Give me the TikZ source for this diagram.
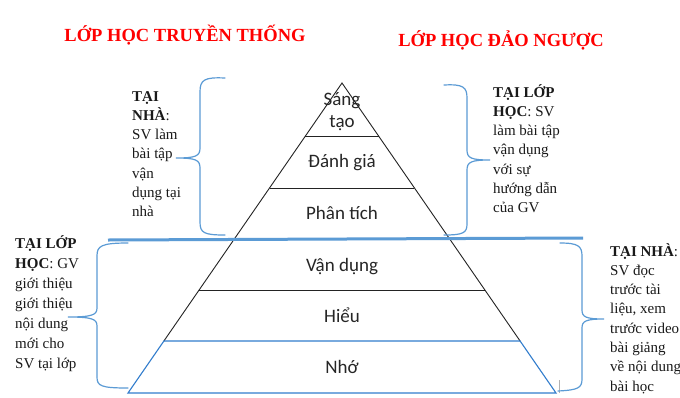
\documentclass[tikz,border=0pt]{standalone}
\usepackage{fontspec}
\setmainfont{Liberation Serif}
\newfontfamily\pyrfont{Carlito}
\usetikzlibrary{calc}
\definecolor{brc}{RGB}{91,155,213}
\definecolor{pblue}{RGB}{50,125,205}
\definecolor{dk}{RGB}{35,35,35}
\definecolor{tred}{RGB}{255,0,0}
\begin{document}
\begin{tikzpicture}[x=1pt,y=-1pt,
  title/.style={anchor=base,inner sep=0pt,text=tred,font=\fontsize{18.5}{20}\selectfont\bfseries},
  pyr/.style={anchor=base,inner sep=0pt,font=\pyrfont\fontsize{19}{22}\selectfont,text=black!85},
  txt/.style={anchor=base west,inner sep=0pt,font=\fontsize{15}{18}\selectfont,text=black!90},
  dline/.style={draw=dk,line width=0.9pt},
  bline/.style={draw=pblue,line width=1.1pt},
  bracestyle/.style={draw=brc,line width=1.2pt,line cap=round}]
\useasboundingbox (0,0) rectangle (680,397);
\fill[white] (0,0) rectangle (680,397);

% titles
\node[title] (t1) at (185,41) {LỚP HỌC TRUYỀN THỐNG};
\node[title] (t2) at (501,46) {LỚP HỌC ĐẢO NGƯỢC};

% pyramid
\coordinate (A) at (342,83);
\coordinate (BL) at (128,393);
\coordinate (BR) at (556,393);
\coordinate (L1) at ($(A)!0.171!(BL)$);
\coordinate (R1) at ($(A)!0.171!(BR)$);
\coordinate (L2) at ($(A)!0.3387!(BL)$);
\coordinate (R2) at ($(A)!0.3387!(BR)$);
\coordinate (L4) at ($(A)!0.6677!(BL)$);
\coordinate (R4) at ($(A)!0.6677!(BR)$);
\coordinate (L5) at ($(A)!0.8323!(BL)$);
\coordinate (R5) at ($(A)!0.8323!(BR)$);

\draw[dline,line join=miter] (L5) -- (A) -- (R5);
\draw[dline] (L1) -- (R1);
\draw[dline] (L2) -- (R2);
\draw[dline] (L4) -- (R4);
\draw[bline,line join=miter] (L5) -- (BL) -- (BR) -- (R5) -- cycle;

% thick blue divider
\coordinate (DL) at (108,240);
\coordinate (DR) at (583,238);
\draw[draw=brc,line width=3pt] (DL) -- (DR);

% small grey mark
\coordinate (g1) at (559,380);
\coordinate (g2) at (559,393);
\draw[black!30,line width=0.8pt] (g1) -- (g2);

% pyramid labels
\node[pyr] (p1a) at (342,105) {Sáng};
\node[pyr] (p1b) at (342,127) {tạo};
\node[pyr] (p2) at (342,167) {Đánh giá};
\node[pyr] (p3) at (342,219) {Phân tích};
\node[pyr] (p4) at (342,271) {Vận dụng};
\node[pyr] (p5) at (342,322) {Hiểu};
\node[pyr] (p6) at (342,373) {Nhớ};

% braces
\draw[bracestyle] (225,78) .. controls (204,77) and (200,80) .. (200,92)
  -- (200,148) .. controls (200,156) and (196,158) .. (176,158)
  .. controls (196,158) and (200,160) .. (200,168)
  -- (200,222) .. controls (200,233) and (204,235) .. (225,235);
\draw[bracestyle] (444,85) .. controls (463,84) and (467,87) .. (467,98)
  -- (467,150) .. controls (467,158) and (471,160) .. (490,160)
  .. controls (471,160) and (467,162) .. (467,170)
  -- (467,224) .. controls (467,233) and (463,235) .. (444,235);
\draw[bracestyle] (128,243) .. controls (101,243) and (97,246) .. (97,256)
  -- (97,308) .. controls (97,315) and (92,317) .. (68,317)
  .. controls (92,317) and (97,319) .. (97,326)
  -- (97,377) .. controls (97,386) and (101,388) .. (128,388);
\draw[bracestyle] (560,243) .. controls (578,243) and (582,246) .. (582,256)
  -- (582,310) .. controls (582,317) and (586,319) .. (604,319)
  .. controls (586,319) and (582,321) .. (582,328)
  -- (582,379) .. controls (582,388) and (578,390) .. (558,391);

% text blocks
\foreach \t [count=\i] in {{\textbf{TẠI}},{\textbf{NHÀ}:},SV làm,bài tập,vận,dụng tại,nhà}
  \node[txt,name=lt\i] at (132,{101+(\i-1)*19.3}) {\t};
\foreach \t [count=\i] in {{\textbf{TẠI LỚP}},{\textbf{HỌC}: SV},làm bài tập,vận dụng,với sự,hướng dẫn,của GV}
  \node[txt,name=rt\i] at (493,{97+(\i-1)*19.3}) {\t};
\foreach \t [count=\i] in {{\textbf{TẠI LỚP}},{\textbf{HỌC}: GV},giới thiệu,giới thiệu,nội dung,mới cho,SV tại lớp}
  \node[txt,name=ll\i] at (15,{248+(\i-1)*20}) {\t};
\foreach \t [count=\i] in {{\textbf{TẠI NHÀ}:},SV đọc,trước tài,{liệu, xem},trước video,bài giảng,về nội dung,bài học}
  \node[txt,name=rl\i] at (610,{256+(\i-1)*19.3}) {\t};
\end{tikzpicture}
\end{document}
